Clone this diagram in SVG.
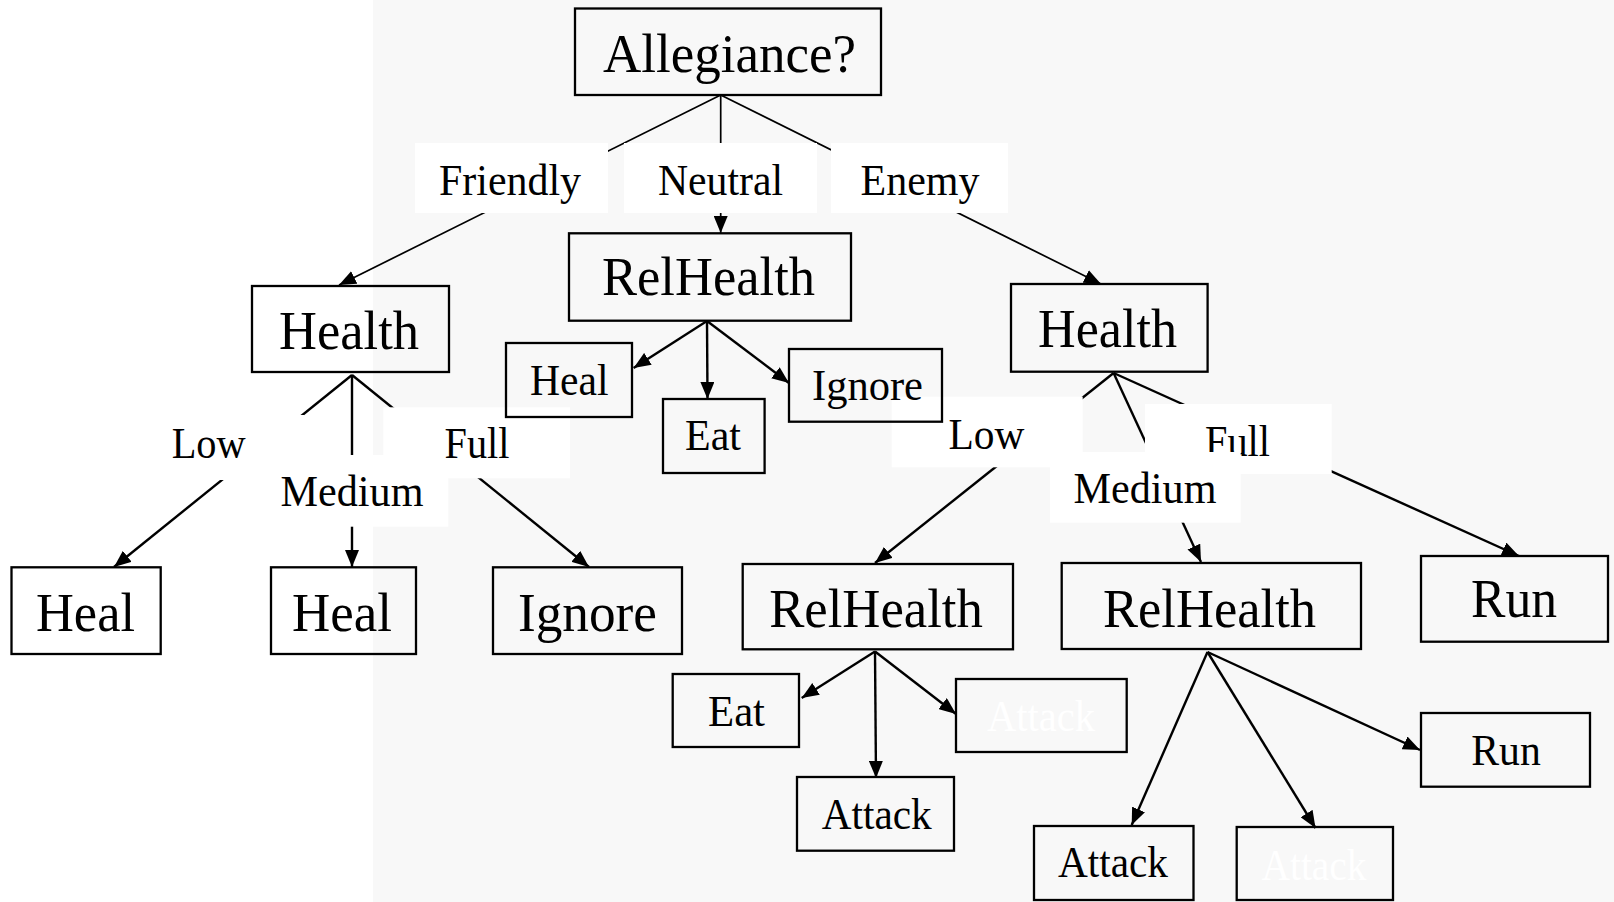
<svg xmlns="http://www.w3.org/2000/svg" width="1614" height="902" viewBox="0 0 1614 902">
  <style>
    .box { fill: none; stroke: #000; stroke-width: 2.3; }
    .edge { fill: none; stroke: #000; stroke-width: 2.4; }
    .thin { stroke-width: 1.7; }
    .lbg { fill: #fff; stroke: none; }
    .big { font-family: "Liberation Serif", "Times New Roman", serif; font-size: 55.5px; fill: #000; text-anchor: middle; }
    .small { font-family: "Liberation Serif", "Times New Roman", serif; font-size: 44.4px; fill: #000; text-anchor: middle; }
    .hidden { fill: #fff; }
  </style>
  <defs>
    <marker id="arrow" markerUnits="userSpaceOnUse" markerWidth="18" markerHeight="14" refX="17" refY="7" orient="auto">
      <path d="M0,0 L17,7 L0,14 z" fill="#000"/>
    </marker>
  </defs>

  <!-- canvas: white strip on the left, light grey elsewhere -->
  <rect x="0" y="0" width="1614" height="902" fill="#fff"/>
  <rect x="373" y="0" width="1241" height="902" fill="#f8f8f8"/>

  <!-- connectors -->
  <g id="connectors">
    <line class="edge thin" x1="720.7" y1="95" x2="339" y2="285" marker-end="url(#arrow)"/>
    <line class="edge thin" x1="720.7" y1="95" x2="720.7" y2="233" marker-end="url(#arrow)"/>
    <line class="edge thin" x1="720.7" y1="95" x2="1101" y2="284" marker-end="url(#arrow)"/>

    <line class="edge" x1="352" y1="375" x2="114" y2="567" marker-end="url(#arrow)"/>
    <line class="edge" x1="352" y1="375" x2="352" y2="567" marker-end="url(#arrow)"/>
    <line class="edge" x1="352" y1="375" x2="589" y2="567" marker-end="url(#arrow)"/>

    <line class="edge" x1="707" y1="321" x2="633.6" y2="368" marker-end="url(#arrow)"/>
    <line class="edge" x1="707" y1="321" x2="707.5" y2="399" marker-end="url(#arrow)"/>
    <line class="edge" x1="707" y1="321" x2="789" y2="383" marker-end="url(#arrow)"/>

    <line class="edge" x1="1113.6" y1="373" x2="875" y2="563" marker-end="url(#arrow)"/>
    <line class="edge" x1="1113.6" y1="373" x2="1201" y2="562" marker-end="url(#arrow)"/>
    <line class="edge" x1="1113.6" y1="373" x2="1519" y2="556" marker-end="url(#arrow)"/>

    <line class="edge" x1="875" y1="651.5" x2="801.7" y2="698" marker-end="url(#arrow)"/>
    <line class="edge" x1="875" y1="651.5" x2="876" y2="778" marker-end="url(#arrow)"/>
    <line class="edge" x1="875" y1="651.5" x2="956" y2="714" marker-end="url(#arrow)"/>

    <line class="edge" x1="1207.5" y1="652" x2="1131.7" y2="825" marker-end="url(#arrow)"/>
    <line class="edge" x1="1207.5" y1="652" x2="1315.5" y2="828" marker-end="url(#arrow)"/>
    <line class="edge" x1="1207.5" y1="652" x2="1420" y2="750" marker-end="url(#arrow)"/>
  </g>

  <!-- edge labels -->
  <g id="label-friendly">
    <rect class="lbg" x="415" y="143" width="193" height="70"/>
    <text class="small" x="510" y="195" textLength="142" lengthAdjust="spacingAndGlyphs">Friendly</text>
  </g>
  <g id="label-neutral">
    <rect class="lbg" x="624" y="143" width="193" height="70"/>
    <text class="small" x="720.5" y="195" textLength="125" lengthAdjust="spacingAndGlyphs">Neutral</text>
  </g>
  <g id="label-enemy">
    <rect class="lbg" x="831" y="143" width="177" height="70"/>
    <text class="small" x="920" y="195" textLength="119" lengthAdjust="spacingAndGlyphs">Enemy</text>
  </g>

  <g id="label-low-1">
    <rect class="lbg" x="116" y="415" width="188" height="65"/>
    <text class="small" x="208.7" y="458" textLength="74" lengthAdjust="spacingAndGlyphs">Low</text>
  </g>
  <g id="label-medium-1">
    <rect class="lbg" x="255" y="455" width="193.3" height="71.7"/>
    <text class="small" x="352" y="506" textLength="143" lengthAdjust="spacingAndGlyphs">Medium</text>
  </g>
  <g id="label-full-1">
    <rect class="lbg" x="383.3" y="407.3" width="186.7" height="71"/>
    <text class="small" x="477" y="458.3" textLength="65" lengthAdjust="spacingAndGlyphs">Full</text>
  </g>

  <g id="label-low-2">
    <rect class="lbg" x="891.7" y="396.7" width="191" height="70.6"/>
    <text class="small" x="986.5" y="449" textLength="76" lengthAdjust="spacingAndGlyphs">Low</text>
  </g>
  <g id="label-full-2">
    <rect class="lbg" x="1145" y="404" width="186.7" height="70"/>
    <text class="small" x="1237.5" y="455.5" textLength="65" lengthAdjust="spacingAndGlyphs">Full</text>
  </g>
  <g id="label-medium-2">
    <rect class="lbg" x="1050" y="452" width="190.7" height="70.7"/>
    <text class="small" x="1145" y="503" textLength="143" lengthAdjust="spacingAndGlyphs">Medium</text>
  </g>

  <!-- nodes -->
  <g id="node-allegiance">
    <rect class="box" x="575" y="8.5" width="306" height="86.5"/>
    <text class="big" x="729.5" y="72" textLength="253" lengthAdjust="spacingAndGlyphs">Allegiance?</text>
  </g>

  <g id="node-health-friendly">
    <rect class="box" x="252" y="286" width="197" height="86"/>
    <text class="big" x="349" y="349" textLength="140" lengthAdjust="spacingAndGlyphs">Health</text>
  </g>
  <g id="node-heal-low">
    <rect class="box" x="11.5" y="567.3" width="149.2" height="86.7"/>
    <text class="big" x="85.5" y="630.5" textLength="99" lengthAdjust="spacingAndGlyphs">Heal</text>
  </g>
  <g id="node-heal-medium">
    <rect class="box" x="271" y="567.3" width="145" height="86.7"/>
    <text class="big" x="342" y="630.5" textLength="100" lengthAdjust="spacingAndGlyphs">Heal</text>
  </g>
  <g id="node-ignore-full">
    <rect class="box" x="493" y="567.3" width="189" height="86.7"/>
    <text class="big" x="587.5" y="630.5" textLength="139" lengthAdjust="spacingAndGlyphs">Ignore</text>
  </g>

  <g id="node-relhealth-neutral">
    <rect class="box" x="569" y="233.3" width="282" height="87.4"/>
    <text class="big" x="708.5" y="295" textLength="213" lengthAdjust="spacingAndGlyphs">RelHealth</text>
  </g>
  <g id="node-heal-neutral">
    <rect class="box" x="506" y="343" width="126" height="74"/>
    <text class="small" x="569.3" y="395" textLength="78.6" lengthAdjust="spacingAndGlyphs">Heal</text>
  </g>
  <g id="node-eat-neutral">
    <rect class="box" x="663" y="399" width="101.6" height="74"/>
    <text class="small" x="713" y="450" textLength="56" lengthAdjust="spacingAndGlyphs">Eat</text>
  </g>
  <g id="node-ignore-neutral">
    <rect class="box" x="789" y="349" width="153" height="72.7"/>
    <text class="small" x="867.5" y="400" textLength="111" lengthAdjust="spacingAndGlyphs">Ignore</text>
  </g>

  <g id="node-health-enemy">
    <rect class="box" x="1011" y="284" width="196.6" height="87.7"/>
    <text class="big" x="1107.5" y="347" textLength="139" lengthAdjust="spacingAndGlyphs">Health</text>
  </g>
  <g id="node-relhealth-low">
    <rect class="box" x="742.7" y="564" width="270.3" height="85.3"/>
    <text class="big" x="876" y="627" textLength="213.7" lengthAdjust="spacingAndGlyphs">RelHealth</text>
  </g>
  <g id="node-relhealth-medium">
    <rect class="box" x="1061.7" y="563" width="299.3" height="86"/>
    <text class="big" x="1209.5" y="627" textLength="213" lengthAdjust="spacingAndGlyphs">RelHealth</text>
  </g>
  <g id="node-run-full">
    <rect class="box" x="1421" y="556" width="187" height="85.7"/>
    <text class="big" x="1514" y="617" textLength="86" lengthAdjust="spacingAndGlyphs">Run</text>
  </g>

  <g id="node-eat-low">
    <rect class="box" x="672.7" y="674" width="126.3" height="73"/>
    <text class="small" x="736.5" y="726" textLength="57" lengthAdjust="spacingAndGlyphs">Eat</text>
  </g>
  <g id="node-attack-low-1">
    <rect class="box" x="797" y="777" width="157" height="73.7"/>
    <text class="small" x="876.7" y="829" textLength="110" lengthAdjust="spacingAndGlyphs">Attack</text>
  </g>
  <g id="node-attack-low-2">
    <rect class="box" x="956" y="679" width="170.7" height="73"/>
    <text class="small hidden" x="1041" y="730.7" textLength="108" lengthAdjust="spacingAndGlyphs">Attack</text>
  </g>

  <g id="node-attack-medium-1">
    <rect class="box" x="1034" y="826" width="159.5" height="74"/>
    <text class="small" x="1113" y="877" textLength="110" lengthAdjust="spacingAndGlyphs">Attack</text>
  </g>
  <g id="node-attack-medium-2">
    <rect class="box" x="1236.7" y="827" width="156.3" height="73"/>
    <text class="small hidden" x="1314" y="880" textLength="105" lengthAdjust="spacingAndGlyphs">Attack</text>
  </g>
  <g id="node-run-medium">
    <rect class="box" x="1421" y="713" width="169" height="73.7"/>
    <text class="small" x="1506" y="765" textLength="69.5" lengthAdjust="spacingAndGlyphs">Run</text>
  </g>
</svg>
